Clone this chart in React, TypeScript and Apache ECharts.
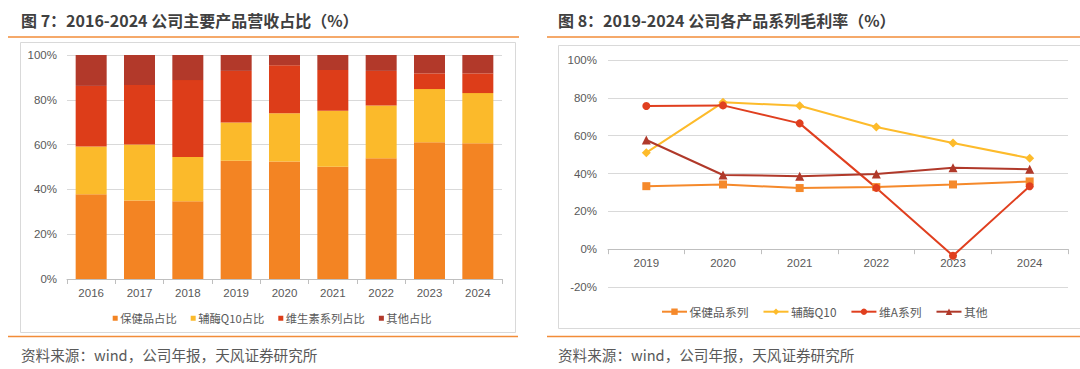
import React, { useEffect, useRef } from "react";
import * as echarts from "echarts";

// ---- Data: Figure 7 (revenue share, %) ----
const shareYears = ["2016", "2017", "2018", "2019", "2020", "2021", "2022", "2023", "2024"];
const healthShare = [37.8, 35.0, 34.7, 52.8, 52.5, 50.1, 53.9, 61.0, 60.6];
const q10Share = [21.3, 25.1, 19.8, 17.1, 21.5, 25.0, 23.5, 23.8, 22.4];
const vitaminShare = [27.1, 26.5, 34.3, 23.0, 21.4, 18.2, 15.5, 7.0, 8.8];
const otherShare = [13.8, 13.4, 11.2, 7.1, 4.6, 6.7, 7.1, 8.2, 8.2];

// ---- Data: Figure 8 (gross margin, %) ----
const marginYears = ["2019", "2020", "2021", "2022", "2023", "2024"];
const healthMargin = [33.3, 34.2, 32.3, 32.8, 34.2, 35.8];
const q10Margin = [51.0, 77.6, 75.8, 64.6, 56.1, 48.1];
const vitAMargin = [75.7, 76.0, 66.5, 32.4, -3.5, 33.3];
const otherMargin = [57.7, 39.2, 38.6, 39.8, 43.0, 42.2];
const marginMin = -20;
const marginMax = 100;

const titleLeft = "图 7：2016-2024 公司主要产品营收占比（%）";
const titleRight = "图 8：2019-2024 公司各产品系列毛利率（%）";
const sourceText = "资料来源：wind，公司年报，天风证券研究所";

const C_ORANGE = "#F38423";
const C_YELLOW = "#FBBA2B";
const C_RED = "#DD3D19";
const C_DARK = "#B2392A";
const C_LINE_ORANGE = "#F28C38";
const FONT = "'Noto Sans CJK SC', 'Noto Sans', sans-serif";
const AXIS_FONT = "'Liberation Sans', Arial, sans-serif";
const AXIS_TEXT = "#595959";
const GRID = "#d9d9d9";

const G2_TOP = 60;
const G2_BOTTOM = 82;
const G2_HEIGHT = 369 - G2_TOP - G2_BOTTOM;
// move the category axis up onto the value 0 (onZero equivalent)
const zeroOffset = -(G2_HEIGHT * (0 - marginMin)) / (marginMax - marginMin);

export default function App() {
  const ref = useRef<HTMLDivElement>(null);
  useEffect(() => {
    if (!ref.current) return;
    const chart = echarts.init(ref.current, null, { renderer: "svg" });
    const pct = (v: number) => `${v}%`;
    chart.setOption({
      animation: false,
      textStyle: { fontFamily: FONT },
      graphic: [
        { type: "text", left: 21, top: 12, style: { text: titleLeft, font: `bold 16px ${FONT}`, fill: "#404040" } },
        { type: "text", left: 558, top: 12, style: { text: titleRight, font: `bold 16px ${FONT}`, fill: "#404040" } },
        { type: "line", shape: { x1: 8, y1: 37, x2: 519, y2: 37 }, style: { stroke: C_LINE_ORANGE, lineWidth: 1.5 } },
        { type: "line", shape: { x1: 547, y1: 37, x2: 1080, y2: 37 }, style: { stroke: C_LINE_ORANGE, lineWidth: 1.5 } },
        { type: "line", shape: { x1: 8, y1: 336.5, x2: 518, y2: 336.5 }, style: { stroke: C_LINE_ORANGE, lineWidth: 1.5 } },
        { type: "line", shape: { x1: 547, y1: 336.5, x2: 1080, y2: 336.5 }, style: { stroke: C_LINE_ORANGE, lineWidth: 1.5 } },
        { type: "rect", shape: { x: 20.5, y: 42.5, width: 495, height: 290 }, style: { fill: "none", stroke: "#d9d9d9", lineWidth: 1 } },
        { type: "rect", shape: { x: 558.5, y: 45.5, width: 530, height: 283 }, style: { fill: "none", stroke: "#d9d9d9", lineWidth: 1 } },
        { type: "text", left: 21, top: 347, style: { text: sourceText, font: `14.6px ${FONT}`, fill: "#595959" } },
        { type: "text", left: 558, top: 347, style: { text: sourceText, font: `14.6px ${FONT}`, fill: "#595959" } },
      ],
      grid: [
        { left: 67, right: 578, top: 55, bottom: 90 },
        { left: 608, right: 12, top: G2_TOP, bottom: G2_BOTTOM },
      ],
      legend: [
        {
          left: 107.7, top: 307.6, icon: "rect", itemWidth: 5, itemHeight: 5, itemGap: 14,
          textStyle: { fontSize: 11.3, color: AXIS_TEXT, padding: [0, 0, 0, -2.5] },
          data: ["保健品占比", "辅酶Q10占比", "维生素系列占比", "其他占比"],
        },
        {
          left: 656, top: 300.8, itemWidth: 25, itemHeight: 8, itemGap: 14,
          textStyle: { fontSize: 11.8, color: AXIS_TEXT, padding: [0, 0, 0, -2.5] },
          data: ["保健品系列", "辅酶Q10", "维A系列", "其他"],
        },
      ],
      xAxis: [
        {
          type: "category", gridIndex: 0, data: shareYears,
          axisLine: { lineStyle: { color: "#bfbfbf" } },
          axisTick: { show: true, lineStyle: { color: "#bfbfbf" } },
          axisLabel: { color: AXIS_TEXT, fontSize: 11.5, fontFamily: AXIS_FONT, margin: 8 },
        },
        {
          type: "category", gridIndex: 1, data: marginYears, position: "bottom", offset: zeroOffset,
          axisLine: { onZero: false, lineStyle: { color: "#bfbfbf" } },
          axisTick: { show: true, lineStyle: { color: "#bfbfbf" } },
          axisLabel: { color: AXIS_TEXT, fontSize: 11.5, fontFamily: AXIS_FONT, margin: 8 },
        },
      ],
      yAxis: [
        {
          type: "value", gridIndex: 0, min: 0, max: 100, interval: 20,
          axisLine: { show: false }, axisTick: { show: false },
          axisLabel: { color: AXIS_TEXT, fontSize: 11.5, fontFamily: AXIS_FONT, formatter: pct, margin: 10 },
          splitLine: { lineStyle: { color: GRID } },
        },
        {
          type: "value", gridIndex: 1, min: marginMin, max: marginMax, interval: 20,
          axisLine: { show: false }, axisTick: { show: false },
          axisLabel: { color: AXIS_TEXT, fontSize: 11.5, fontFamily: AXIS_FONT, formatter: pct, margin: 11 },
          splitLine: { lineStyle: { color: GRID } },
        },
      ],
      series: [
        { name: "保健品占比", type: "bar", stack: "s", xAxisIndex: 0, yAxisIndex: 0, barWidth: 31, data: healthShare, itemStyle: { color: C_ORANGE } },
        { name: "辅酶Q10占比", type: "bar", stack: "s", xAxisIndex: 0, yAxisIndex: 0, barWidth: 31, data: q10Share, itemStyle: { color: C_YELLOW } },
        { name: "维生素系列占比", type: "bar", stack: "s", xAxisIndex: 0, yAxisIndex: 0, barWidth: 31, data: vitaminShare, itemStyle: { color: C_RED } },
        { name: "其他占比", type: "bar", stack: "s", xAxisIndex: 0, yAxisIndex: 0, barWidth: 31, data: otherShare, itemStyle: { color: C_DARK } },
        {
          name: "保健品系列", type: "line", xAxisIndex: 1, yAxisIndex: 1, data: healthMargin,
          symbol: "rect", symbolSize: 8, lineStyle: { color: "#F5892B", width: 2 }, itemStyle: { color: "#F5892B" },
        },
        {
          name: "辅酶Q10", type: "line", xAxisIndex: 1, yAxisIndex: 1, data: q10Margin,
          symbol: "diamond", symbolSize: 9, lineStyle: { color: "#FDBB2B", width: 2 }, itemStyle: { color: "#FDBB2B" },
        },
        {
          name: "维A系列", type: "line", xAxisIndex: 1, yAxisIndex: 1, data: vitAMargin,
          symbol: "circle", symbolSize: 8, lineStyle: { color: "#E03F1F", width: 2 }, itemStyle: { color: "#E03F1F" },
        },
        {
          name: "其他", type: "line", xAxisIndex: 1, yAxisIndex: 1, data: otherMargin,
          symbol: "triangle", symbolSize: 9, lineStyle: { color: "#B0392A", width: 2 }, itemStyle: { color: "#B0392A" },
        },
      ],
    });
    return () => chart.dispose();
  }, []);
  return (
    <div
      ref={ref}
      style={{ position: "absolute", left: 0, top: 0, width: 1080, height: 369, background: "#ffffff" }}
    />
  );
}
